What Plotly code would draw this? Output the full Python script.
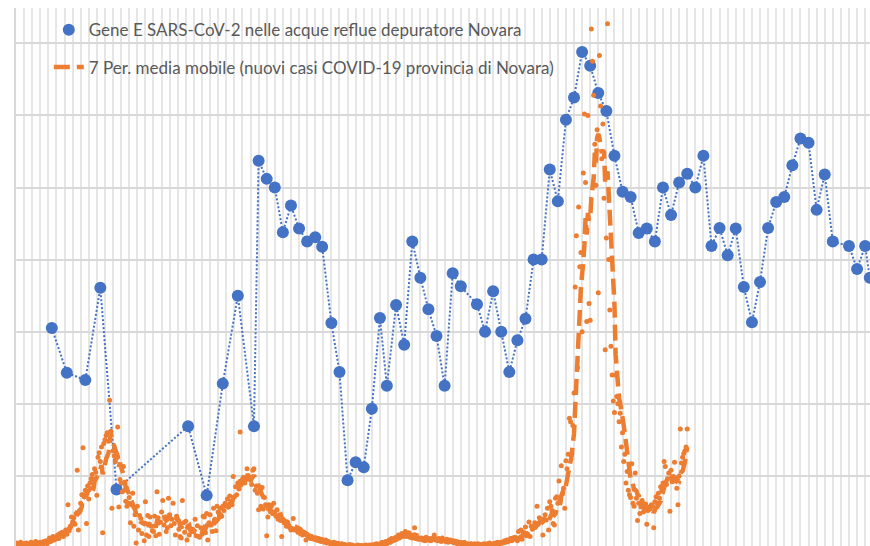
import pandas as pd
import plotly.graph_objects as go

# giorno 0 = 31/08/2020 (lunedì); griglia verticale settimanale
start = pd.Timestamp("2020-08-31")

# campionamenti acque reflue: giorno dall'inizio e valore (gene E, scala asse primario)
gene_days = [31, 44, 60, 73, 87, 149, 165, 179, 192, 206, 210, 217, 224, 231, 238, 245, 252, 259,
             265, 273, 280, 287, 294, 301, 308, 315, 321, 329, 336, 343, 350, 357, 364, 371, 378, 385,
             399, 406, 413, 420, 427, 434, 441, 448, 455, 462, 469, 476, 483, 490, 497, 504, 511, 518,
             525, 532, 539, 546, 553, 560, 567, 574, 581, 588, 595, 602, 609, 616, 623, 630, 637, 644,
             651, 658, 665, 672, 679, 686, 693, 700, 707, 721, 728, 735, 739]
gene_vals = [30.5, 24.3, 23.3, 36.1, 8.1, 16.9, 7.3, 22.8, 35.0, 16.9, 53.7, 51.2, 50.0, 43.8, 47.5,
             44.3, 42.5, 43.1, 41.8, 31.2, 24.4, 9.4, 11.9, 11.2, 19.3, 31.9, 22.5, 33.7, 28.2, 42.5,
             37.5, 33.1, 29.4, 22.5, 38.1, 36.3, 33.8, 30.0, 35.6, 30.0, 24.4, 28.8, 31.8, 40.0, 40.0,
             52.5, 48.1, 59.4, 62.5, 68.8, 66.9, 63.1, 60.6, 54.4, 49.4, 48.7, 43.7, 44.3, 42.5, 50.0,
             46.2, 50.7, 51.9, 50.0, 54.4, 41.9, 44.4, 40.6, 44.3, 36.2, 31.3, 36.9, 44.4, 48.0, 48.7,
             53.1, 56.8, 56.2, 46.9, 51.8, 42.5, 41.9, 38.7, 41.9, 37.5]

# nuovi casi giornalieri provincia di Novara (asse secondario), dal giorno 0
new_cases = [
    5, 7, 4, 6, 8, 3, 5,
    6, 4, 7, 5, 3, 6, 8,
    5, 7, 6, 9, 4, 6, 7,
    8, 6, 5, 9, 7, 10, 6,
    10, 14, 9, 12, 16, 11, 13,
    15, 18, 13, 20, 17, 22, 16,
    21, 25, 19, 60, 24, 30, 43,
    36, 42, 33, 48, 108, 25, 52,
    62, 74, 139, 71, 80, 34, 86,
    68, 90, 96, 102, 95, 110, 105,
    73, 126, 132, 120, 140, 21, 145,
    150, 156, 160, 148, 205, 162, 55,
    135, 128, 120, 125, 168, 57, 95,
    90, 78, 113, 80, 65, 58, 62,
    70, 35, 60, 76, 30, 46, 7,
    58, 25, 45, 41, 20, 35, 10,
    64, 18, 45, 16, 43, 30, 24,
    23, 44, 17, 78, 42, 19, 36,
    50, 66, 32, 41, 23, 28, 69,
    46, 31, 40, 62, 34, 18, 44,
    40, 26, 16, 14, 66, 35, 22,
    37, 11, 30, 18, 25, 23, 26,
    24, 40, 17, 31, 16, 15, 28,
    19, 44, 43, 21, 48, 11, 35,
    46, 32, 23, 55, 40, 24, 58,
    50, 46, 55, 44, 58, 52, 62,
    60, 68, 57, 72, 65, 60, 99,
    71, 85, 74, 90, 82, 161, 88,
    92, 98, 90, 95, 110, 100, 97,
    94, 88, 108, 110, 80, 86, 76,
    53, 82, 58, 84, 54, 70, 60,
    17, 43, 60, 52, 58, 48, 62,
    50, 44, 53, 40, 46, 38, 16,
    40, 35, 37, 30, 36, 32, 28,
    25, 27, 41, 25, 26, 27, 22,
    24, 20, 23, 18, 22, 19, 11,
    18, 15, 17, 13, 16, 14, 12,
    14, 11, 13, 10, 12, 9, 11,
    10, 8, 11, 7, 9, 8, 6,
    7, 6, 8, 5, 7, 4, 6,
    5, 4, 6, 3, 5, 4, 3,
    4, 3, 5, 2, 4, 3, 2,
    3, 2, 4, 2, 3, 2, 3,
    2, 3, 4, 2, 3, 4, 3,
    4, 3, 5, 4, 6, 3, 5,
    6, 5, 8, 6, 7, 9, 6,
    9, 11, 8, 13, 10, 12, 14,
    15, 13, 18, 14, 17, 20, 16,
    18, 23, 16, 19, 21, 15, 17,
    14, 16, 28, 13, 15, 12, 14,
    12, 14, 11, 13, 10, 15, 12,
    11, 13, 10, 12, 14, 18, 11,
    12, 10, 13, 11, 9, 14, 10,
    11, 9, 12, 8, 10, 11, 9,
    8, 10, 7, 9, 6, 8, 7,
    6, 7, 5, 8, 6, 4, 6,
    5, 4, 6, 5, 3, 6, 4,
    4, 6, 5, 3, 5, 4, 6,
    5, 4, 6, 5, 7, 4, 5,
    6, 5, 7, 6, 8, 5, 7,
    8, 7, 9, 10, 8, 11, 9,
    11, 13, 10, 14, 12, 15, 13,
    10, 23, 14, 25, 12, 22, 19,
    29, 17, 19, 36, 16, 30, 26,
    28, 35, 30, 58, 33, 42, 36,
    38, 18, 40, 46, 39, 55, 25,
    64, 58, 52, 34, 32, 69, 71,
    62, 93, 66, 114, 75, 83, 55,
    121, 110, 130, 180, 175, 130, 170,
    215, 362, 433, 250, 473, 390, 410,
    300, 520, 602, 507, 314, 600, 339,
    316, 720, 675, 628, 560, 503, 580,
    354, 683, 613, 540, 588, 485, 275,
    430, 727, 400, 330, 280, 240, 204,
    188, 240, 210, 200, 175, 187, 140,
    160, 120, 130, 90, 106, 80, 74,
    70, 117, 62, 58, 104, 69, 38,
    62, 48, 57, 66, 50, 55, 61,
    33, 52, 57, 54, 60, 58, 28,
    64, 71, 62, 76, 69, 85, 80,
    90, 120, 113, 88, 96, 104, 51,
    108, 92, 99, 119, 97, 83, 60,
    100, 165, 118, 126, 131, 135, 140,
    165,
]

BLUE = "#4472C4"
ORANGE = "#ED7D31"

gene_dates = start + pd.to_timedelta(gene_days, unit="D")
case_dates = pd.date_range(start, periods=len(new_cases), freq="D")
cases = pd.Series(new_cases, index=case_dates)
ma7 = cases.rolling(7).mean()  # come la linea di tendenza "media mobile 7 periodi" di Excel

fig = go.Figure()

# linea a punti (fuori legenda) + marcatori (in legenda)
fig.add_trace(go.Scatter(
    x=gene_dates, y=gene_vals, mode="lines", showlegend=False,
    line=dict(color=BLUE, width=2, dash="2px,2px"), hoverinfo="skip",
))
fig.add_trace(go.Scatter(
    x=gene_dates, y=gene_vals, mode="markers",
    name="Gene E SARS-CoV-2 nelle acque reflue depuratore Novara",
    marker=dict(color=BLUE, size=12),
    legendgroup="a",
))
fig.add_trace(go.Scatter(
    x=case_dates, y=cases.values, mode="markers", yaxis="y2",
    name="nuovi casi COVID-19 provincia di Novara", showlegend=False,
    marker=dict(color=ORANGE, size=5),
))
fig.add_trace(go.Scatter(
    x=ma7.index, y=ma7.values, mode="lines", yaxis="y2",
    name="7 Per. media mobile (nuovi casi COVID-19 provincia di Novara)",
    line=dict(color=ORANGE, width=4.5, dash="16px,7px"),
    legendgroup="b",
))

x_end = start + pd.Timedelta(days=739.2)

fig.update_layout(
    width=870, height=546,
    margin=dict(l=16, r=0, t=8, b=0),
    paper_bgcolor="white", plot_bgcolor="white",
    font=dict(family="Lato", color="#595959"),
    xaxis=dict(
        range=[start, x_end], tick0=start, dtick=7 * 86400000,
        showgrid=True, gridcolor="#E6E6E6", gridwidth=2,
        showticklabels=False, ticks="", zeroline=False,
    ),
    yaxis=dict(
        range=[0.277, 74.9], tick0=0, dtick=10,
        showgrid=True, gridcolor="#D9D9D9", gridwidth=2,
        showticklabels=False, ticks="", zeroline=False,
        showline=True, linecolor="#D9D9D9", linewidth=2,
    ),
    yaxis2=dict(
        range=[2.77, 749], overlaying="y", side="right",
        showgrid=False, showticklabels=False, ticks="", zeroline=False,
    ),
    showlegend=True,
    legend=dict(
        x=0.0384, y=0.992, xanchor="left", yanchor="top",
        bgcolor="rgba(0,0,0,0)", font=dict(family="Lato", size=17, color="#595959"),
        tracegroupgap=12,
    ),
)

# niente margine della pagina né barre di scorrimento
fig.write_html(
    "out.html",
    config={"displayModeBar": False},
    post_script="document.body.style.margin='0';document.body.style.overflow='hidden';",
)
